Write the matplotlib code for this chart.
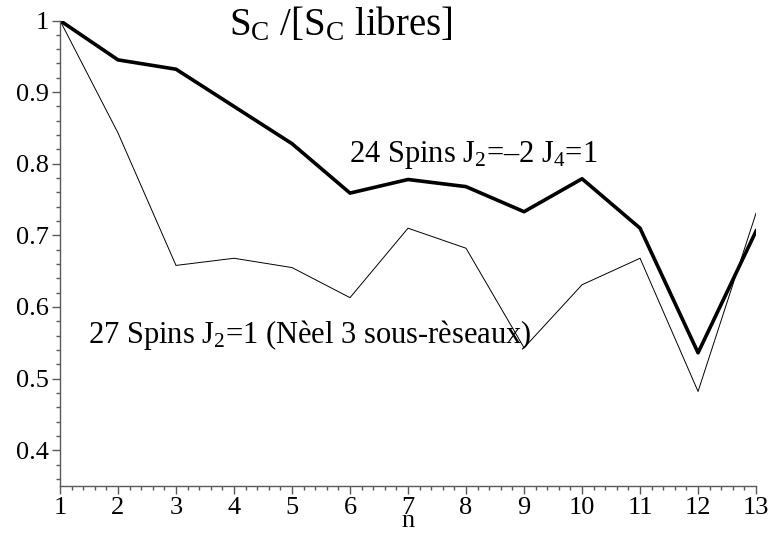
import matplotlib
matplotlib.use("Agg")
import matplotlib.pyplot as plt
from matplotlib.ticker import AutoMinorLocator

plt.rcParams['font.family'] = 'Liberation Serif'
plt.rcParams['mathtext.fontset'] = 'custom'
plt.rcParams['mathtext.rm'] = 'Liberation Serif'
plt.rcParams['mathtext.it'] = 'Liberation Serif:italic'

# S_C normalised to free spins, vs n
n = [1, 2, 3, 4, 5, 6, 7, 8, 9, 10, 11, 12, 13]
spins24 = [1.0, 0.945, 0.932, 0.880, 0.828, 0.759, 0.778, 0.768, 0.733, 0.779, 0.710, 0.536, 0.706]
spins27 = [1.0, 0.843, 0.658, 0.668, 0.655, 0.613, 0.710, 0.682, 0.543, 0.631, 0.668, 0.482, 0.731]

yticks = [0.4, 0.5, 0.6, 0.7, 0.8, 0.9, 1.0]
ytick_labels = ["0.4", "0.5", "0.6", "0.7", "0.8", "0.9", "1"]

fig = plt.figure(figsize=(7.7, 5.34), dpi=100)
ax = fig.add_axes([0.0779, 0.0899, 0.904, 0.8717])

ax.plot(n, spins24, '-', color='black', linewidth=2.6)
ax.plot(n, spins27, '-', color='black', linewidth=0.7)

ax.set_xlim(1, 13)
ax.set_ylim(0.35, 1.0)
ax.set_xticks(n)
ax.set_xticklabels([str(i) for i in n])
ax.set_yticks(yticks)
ax.set_yticklabels(ytick_labels)
ax.xaxis.set_minor_locator(AutoMinorLocator(5))
ax.yaxis.set_minor_locator(AutoMinorLocator(5))

for s in ['top', 'right']:
    ax.spines[s].set_visible(False)
for s in ['left', 'bottom']:
    ax.spines[s].set_color('0.35')
    ax.spines[s].set_linewidth(1.0)

ax.tick_params(which='major', length=6, width=1, color='0.35', labelsize=19, pad=2)
ax.tick_params(which='minor', length=3, width=1, color='0.35')

# axis title sits just under the "7" tick label
ax.set_xlabel('n', fontsize=19, va='baseline')
ax.xaxis.set_label_coords(0.5, -0.088)

ax.text(5.98, 0.802, "24 Spins J$_2$=–2 J$_4$=1", fontsize=22, ha='left', va='baseline')
ax.text(1.48, 0.5496, "27 Spins J$_2$=1 (Nèel 3 sous-rèseaux)", fontsize=22, ha='left', va='baseline')

fig.text(0.297, 0.934, r"S$_\mathrm{C}$ /[S$_\mathrm{C}$ libres]", fontsize=28, ha='left', va='baseline')

plt.savefig('out.png', dpi=100)
